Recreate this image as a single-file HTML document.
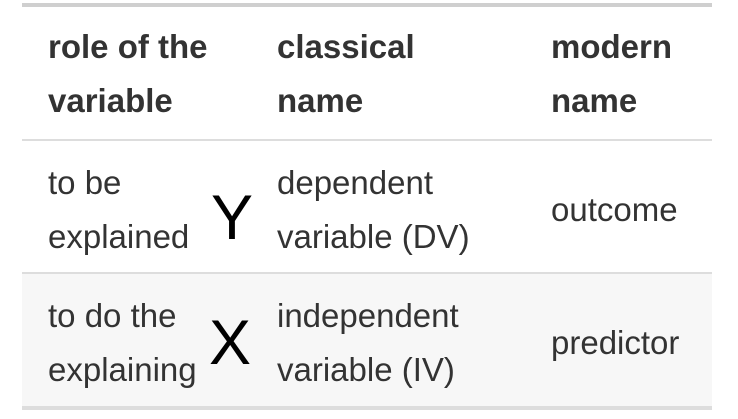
<!DOCTYPE html>
<html><head><style>
body{margin:0;width:738px;height:419px;background:#fff;position:relative;overflow:hidden;font-family:"Liberation Sans",Arial,sans-serif;color:#333}
.t{position:absolute;font-size:33px;line-height:54px;white-space:nowrap}
.b{font-weight:bold}
.big{position:absolute;font-size:63px;line-height:63px;color:#000}
.r{position:absolute;left:22px;width:690px}
</style></head><body>
<div class="r" style="top:3px;height:4px;background:#cfcfcf"></div>
<div class="r" style="top:139px;height:2px;background:#ddd"></div>
<div class="r" style="top:272px;height:2px;background:#ddd"></div>
<div class="r" style="top:274px;height:133px;background:#f7f7f7"></div>
<div class="r" style="top:406px;height:4px;background:#ddd"></div>

<div class="t b" style="left:48px;top:20px">role of the<br>variable</div>
<div class="t b" style="left:277px;top:20px">classical<br>name</div>
<div class="t b" style="left:551px;top:20px">modern<br>name</div>

<div class="t" style="left:48px;top:156px">to be<br>explained</div>
<div class="big" style="left:211px;top:187px">Y</div>
<div class="t" style="left:277px;top:156px">dependent<br>variable (DV)</div>
<div class="t" style="left:551px;top:183px">outcome</div>

<div class="t" style="left:48px;top:289px">to do the<br>explaining</div>
<div class="big" style="left:209px;top:312px">X</div>
<div class="t" style="left:277px;top:289px">independent<br>variable (IV)</div>
<div class="t" style="left:551px;top:316px">predictor</div>
</body></html>
